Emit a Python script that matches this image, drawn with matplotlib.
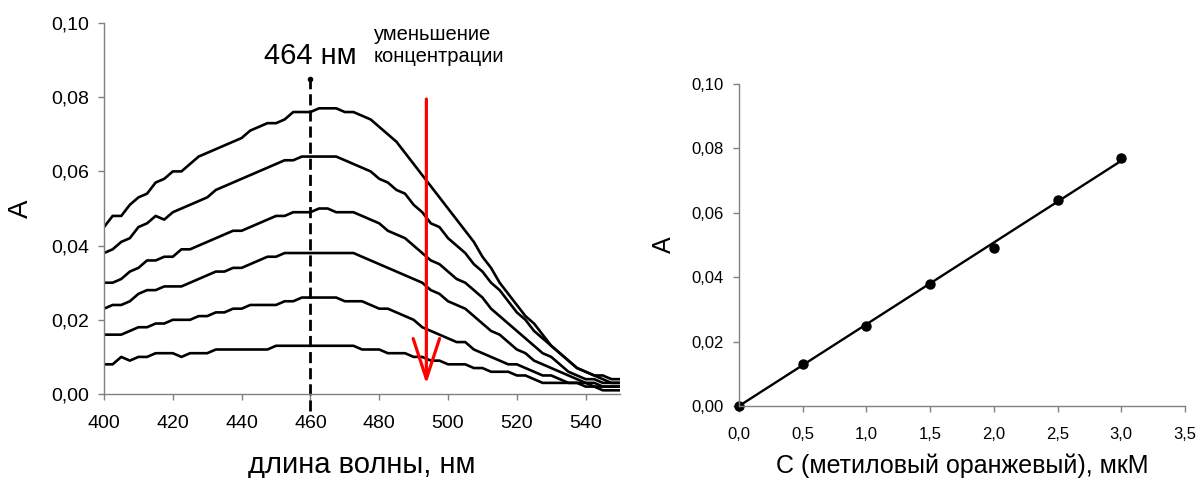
import numpy as np
import matplotlib
matplotlib.use('Agg')
import matplotlib.pyplot as plt
from matplotlib.ticker import FuncFormatter

plt.rcParams['font.family'] = ['Liberation Sans', 'DejaVu Sans']

# --- spectra (left panel), absorbance in units of 1e-3 ---
wavelength = np.arange(400, 550.1, 2.5)

spec_1 = [45, 48, 48, 51, 53, 54, 57, 58, 60, 60, 62, 64, 65, 66, 67, 68, 69, 71, 72, 73,
          73, 74, 76, 76, 76, 77, 77, 77, 76, 76, 75, 74, 72, 70, 68, 65, 62, 59, 56, 53,
          50, 47, 44, 41, 37, 34, 30, 27, 24, 21, 19, 16, 13, 11, 9, 7, 6, 5, 5, 4, 4]
spec_2 = [38, 39, 41, 42, 45, 46, 48, 47, 49, 50, 51, 52, 53, 55, 56, 57, 58, 59, 60, 61,
          62, 63, 63, 64, 64, 64, 64, 64, 63, 62, 61, 60, 58, 57, 55, 54, 51, 49, 46, 45,
          42, 40, 38, 35, 33, 30, 28, 25, 22, 20, 17, 15, 13, 11, 9, 7, 6, 5, 4, 3, 3]
spec_3 = [30, 30, 31, 33, 34, 36, 36, 37, 37, 39, 39, 40, 41, 42, 43, 44, 44, 45, 46, 47,
          48, 48, 49, 49, 49, 50, 50, 49, 49, 49, 48, 47, 46, 44, 43, 42, 40, 38, 36, 35,
          33, 31, 30, 28, 26, 23, 21, 19, 17, 15, 13, 11, 10, 8, 6, 5, 4, 4, 3, 3, 3]
spec_4 = [23, 24, 24, 25, 27, 28, 28, 29, 29, 29, 30, 31, 32, 33, 33, 34, 34, 35, 36, 37,
          37, 38, 38, 38, 38, 38, 38, 38, 38, 38, 37, 36, 35, 34, 33, 32, 31, 30, 28, 27,
          25, 24, 23, 21, 19, 17, 16, 14, 12, 11, 9, 8, 7, 6, 5, 4, 3, 3, 2, 2, 2]
spec_5 = [16, 16, 16, 17, 18, 18, 19, 19, 20, 20, 20, 21, 21, 22, 22, 23, 23, 24, 24, 24,
          24, 25, 25, 26, 26, 26, 26, 26, 25, 25, 25, 24, 23, 23, 22, 21, 20, 18, 17, 16,
          15, 14, 14, 12, 11, 10, 9, 8, 8, 7, 6, 5, 5, 4, 3, 3, 2, 2, 1, 1, 1]
spec_6 = [8, 8, 10, 9, 10, 10, 11, 11, 11, 10, 11, 11, 11, 12, 12, 12, 12, 12, 12, 12,
          13, 13, 13, 13, 13, 13, 13, 13, 13, 13, 12, 12, 12, 11, 11, 11, 10, 10, 9, 9,
          8, 8, 8, 7, 7, 6, 6, 6, 5, 5, 4, 3, 3, 3, 3, 3, 3, 2, 2, 2, 2]
spectra = [spec_1, spec_2, spec_3, spec_4, spec_5, spec_6]

lambda_max = 460
peak_label = '464 нм'

# --- calibration (right panel) ---
conc = [0.0, 0.5, 1.0, 1.5, 2.0, 2.5, 3.0]
absorb = [0.0, 0.013, 0.025, 0.038, 0.049, 0.064, 0.077]

GRAY = '#808080'


def comma_fmt(decimals):
    return FuncFormatter(lambda v, p: f'{v:.{decimals}f}'.replace('.', ','))


def style_axes(ax, tick_size):
    for s in ('top', 'right'):
        ax.spines[s].set_visible(False)
    for s in ('left', 'bottom'):
        ax.spines[s].set_color(GRAY)
        ax.spines[s].set_linewidth(1.0)
    ax.tick_params(direction='out', length=4, width=1, color=GRAY,
                   labelsize=tick_size)
    ax.tick_params(axis='x', pad=11)
    ax.tick_params(axis='y', pad=7)


fig = plt.figure(figsize=(12, 4.78), dpi=100)

# left: spectra
ax = fig.add_axes([0.0867, 0.1757, 0.43, 0.7762])
for s in spectra:
    ax.plot(wavelength, np.array(s) / 1000, color='black', lw=1.9,
            solid_joinstyle='round')
ax.plot([lambda_max, lambda_max], [-0.0045, 0.085], color='black', lw=2,
        dashes=(4, 1.8), clip_on=False)
ax.plot([lambda_max], [0.085], 'o', color='black', ms=3, clip_on=False)
ax.text(lambda_max, 0.0889, peak_label, ha='center', va='baseline', fontsize=21)
ax.text(478.5, 0.0995, 'уменьшение\nконцентрации', ha='left', va='top',
        fontsize=14.5, linespacing=1.2)
ax.annotate('', xy=(493.7, 0.0027), xytext=(493.7, 0.0795),
            arrowprops=dict(arrowstyle='->,head_length=2.9,head_width=0.95',
                            color='red', lw=2.3, shrinkA=0, shrinkB=0))
ax.set_xlim(400, 550)
ax.set_ylim(0, 0.10)
ax.set_xticks(np.arange(400, 541, 20))
ax.set_yticks(np.arange(0, 0.101, 0.02))
ax.yaxis.set_major_formatter(comma_fmt(2))
style_axes(ax, 14)
ax.set_xlabel('длина волны, нм', fontsize=21)
ax.set_ylabel('A', fontsize=20)
ax.xaxis.label.set_va('baseline')
ax.xaxis.set_label_coords(0.5, -0.213)
ax.yaxis.set_label_coords(-0.136, 0.5)

# right: calibration
ax2 = fig.add_axes([0.6158, 0.1506, 0.3717, 0.6737])
k = np.sum(np.array(conc) * np.array(absorb)) / np.sum(np.array(conc) ** 2)
xfit = np.array([0.0, 3.0])
ax2.plot(xfit, k * xfit, color='black', lw=1.7)
ax2.plot(conc, absorb, 'o', color='black', ms=6.5, clip_on=False)
ax2.set_xlim(0, 3.5)
ax2.set_ylim(0, 0.10)
ax2.set_xticks(np.arange(0, 3.51, 0.5))
ax2.set_yticks(np.arange(0, 0.101, 0.02))
ax2.xaxis.set_major_formatter(comma_fmt(1))
ax2.yaxis.set_major_formatter(comma_fmt(2))
style_axes(ax2, 12)
ax2.set_xlabel('С (метиловый оранжевый), мкМ', fontsize=18)
ax2.set_ylabel('A', fontsize=18)
ax2.xaxis.label.set_va('baseline')
ax2.xaxis.set_label_coords(0.5, -0.208)
ax2.yaxis.set_label_coords(-0.141, 0.5)

fig.savefig('out.png', dpi=100)
